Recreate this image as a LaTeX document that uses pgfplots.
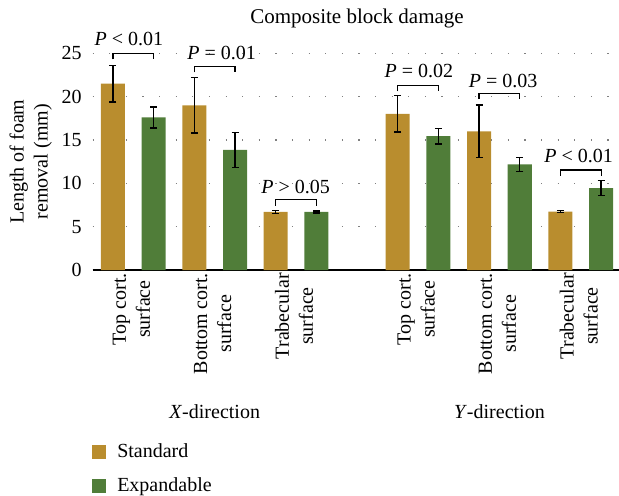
\documentclass[border=0pt]{standalone}
\usepackage{fontspec}
\setmainfont{Liberation Serif}
\usepackage{pgfplots}
\pgfplotsset{compat=1.18}
\definecolor{stdc}{RGB}{185,141,46}
\definecolor{expc}{RGB}{80,125,57}
\begin{document}
\begin{tikzpicture}
\begin{axis}[
 x=20.33pt, y=4.335pt,
 xmin=-0.5, xmax=12.45, ymin=0, ymax=25,
 clip=false,
 axis x line*=bottom, axis y line*=left,
 y axis line style={draw=none},
 x axis line style={line width=0.8pt, -},
 xtick={0.5,2.5,4.5,7.5,9.5,11.5},
 xticklabels={{Top cort.\\surface},{Bottom cort.\\surface},{Trabecular\\surface},{Top cort.\\surface},{Bottom cort.\\surface},{Trabecular\\surface}},
 xticklabel style={yshift=2pt, xshift=-1pt, rotate=90, anchor=east, align=center},
 ytick={0,5,...,25},
 major tick length=0pt,
 ymajorgrids, grid style={gray, line width=0.6pt, dash pattern=on 0.6pt off 7.7pt},
 /pgf/number format/assume math mode=true,
 yticklabel style={xshift=-2pt},
 ybar, bar width=12pt, bar shift=0pt,
 legend cell align=left,
 legend style={at={(axis cs:-0.52,-19.55)}, anchor=north west, draw=none, fill=none, row sep=4.5pt, inner sep=0pt},
 legend image code/.code={\fill[#1] (0pt,-3.5pt) rectangle (7pt,3.5pt); \path (10.5pt,0pt);},
]
\addplot[fill=stdc, draw=none, error bars/.cd, y dir=both, y explicit,
  error bar style={black, line width=0.7pt},
  error mark options={rotate=90, black, mark size=1.75pt, line width=0.7pt}]
 coordinates {(0,21.5) +- (0,2.1) (2,19.0) +- (0,3.2) (4,6.7) +- (0,0.15)
              (7,18.0) +- (0,2.1) (9,16.0) +- (0,3.05) (11,6.75) +- (0,0.1)};
\addlegendentry{Standard}
\addplot[fill=expc, draw=none, error bars/.cd, y dir=both, y explicit,
  error bar style={black, line width=0.7pt},
  error mark options={rotate=90, black, mark size=1.75pt, line width=0.7pt}]
 coordinates {(1,17.6) +- (0,1.2) (3,13.85) +- (0,2.0) (5,6.7) +- (0,0.1)
              (8,15.45) +- (0,0.9) (10,12.2) +- (0,0.8) (12,9.45) +- (0,0.85)};
\addlegendentry{Expandable}
% significance brackets
\draw[line width=0.6pt] (axis cs:0,24.3) |- (axis cs:1,25.0) -- (axis cs:1,24.3);
\draw[line width=0.6pt] (axis cs:2,22.8) |- (axis cs:3,23.5) -- (axis cs:3,22.8);
\draw[line width=0.6pt] (axis cs:4,7.4) |- (axis cs:5,8.15) -- (axis cs:5,7.4);
\draw[line width=0.6pt] (axis cs:7,20.6) |- (axis cs:8,21.25) -- (axis cs:8,20.6);
\draw[line width=0.6pt] (axis cs:9,19.7) |- (axis cs:10,20.4) -- (axis cs:10,19.7);
\draw[line width=0.6pt] (axis cs:11,10.85) |- (axis cs:12,11.55) -- (axis cs:12,10.85);
\node[anchor=base] at (axis cs:0.39,25.84) {\textit{P} < 0.01};
\node[anchor=base] at (axis cs:2.67,24.3) {\textit{P} = 0.01};
\node[anchor=base] at (axis cs:4.49,8.88) {\textit{P} > 0.05};
\node[anchor=base] at (axis cs:7.52,22.15) {\textit{P} = 0.02};
\node[anchor=base] at (axis cs:9.59,21.1) {\textit{P} = 0.03};
\node[anchor=base] at (axis cs:11.45,12.35) {\textit{P} < 0.01};
% title, labels
\node[anchor=base, font=\fontsize{10.5}{12.6}\selectfont] at (axis cs:6.0,28.45) {Composite block damage};
\node[rotate=90, align=center] at (axis cs:-2.02,12.5) {Length of foam\\removal (mm)};
\node[anchor=base] at (axis cs:2.5,-17.07) {\textit{X}-direction};
\node[anchor=base] at (axis cs:9.5,-17.07) {\textit{Y}-direction};
\coordinate (bbsw) at (axis cs:-2.778,-25.95);
\coordinate (bbne) at (axis cs:12.44,31.14);
\end{axis}
\pgfresetboundingbox
\useasboundingbox (bbsw) rectangle (bbne);
\end{tikzpicture}
\end{document}
